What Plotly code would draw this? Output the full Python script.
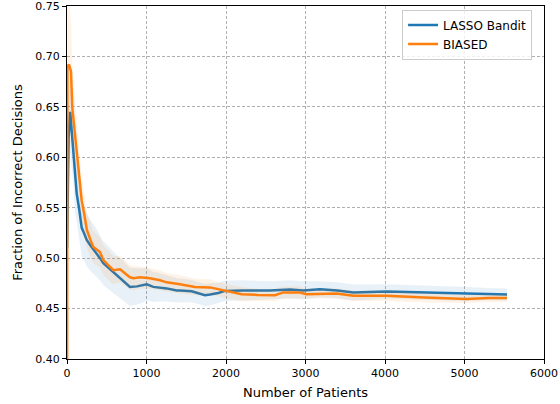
import plotly.graph_objects as go

# LASSO Bandit (blue)
lasso_x = [1, 20, 40, 67, 80, 100, 109, 122, 151, 185, 214, 248, 300, 374, 415, 457, 540, 625,
           700, 792, 880, 960, 1002, 1086, 1170, 1254, 1380, 1421, 1568, 1673, 1736, 1799, 1903,
           1987, 2197, 2553, 2805, 2972, 3182, 3400, 3601, 4021, 4500, 5027, 5300, 5535]
lasso_y = [0.51, 0.62, 0.645, 0.617, 0.61, 0.58, 0.574, 0.564, 0.55, 0.53, 0.525, 0.518, 0.512,
           0.505, 0.500, 0.495, 0.489, 0.483, 0.478, 0.4715, 0.472, 0.473, 0.474, 0.4715, 0.471,
           0.470, 0.468, 0.468, 0.4672, 0.465, 0.4633, 0.464, 0.4655, 0.4675, 0.468, 0.468, 0.469,
           0.468, 0.4692, 0.468, 0.4659, 0.467, 0.466, 0.4645, 0.4645, 0.464]
lasso_sd = [0.03, 0.04, 0.04, 0.035, 0.035, 0.033, 0.032, 0.03, 0.03, 0.028, 0.027, 0.026, 0.025,
            0.024, 0.022, 0.022, 0.021, 0.02, 0.02, 0.019, 0.018, 0.017, 0.016, 0.015, 0.014,
            0.013, 0.012, 0.012, 0.011, 0.011, 0.011, 0.011, 0.01, 0.01, 0.01, 0.009, 0.009,
            0.009, 0.008, 0.008, 0.008, 0.007, 0.007, 0.007, 0.006, 0.006]

# BIASED (orange)
biased_x = [1, 5, 25, 50, 67, 80, 109, 151, 185, 214, 250, 300, 331, 415, 457, 583, 667, 792,
            834, 918, 1044, 1170, 1254, 1421, 1610, 1799, 1862, 1987, 2197, 2400, 2616, 2721,
            2930, 3014, 3391, 3601, 4021, 4500, 5027, 5300, 5535]
biased_y = [0.35, 0.69, 0.692, 0.685, 0.649, 0.639, 0.62, 0.584, 0.557, 0.545, 0.528, 0.517,
            0.511, 0.506, 0.498, 0.488, 0.489, 0.481, 0.480, 0.481, 0.480, 0.478, 0.476, 0.474,
            0.4715, 0.471, 0.470, 0.4675, 0.4643, 0.4635, 0.4633, 0.466, 0.466, 0.4643, 0.465,
            0.4626, 0.4626, 0.461, 0.4595, 0.4605, 0.4605]
biased_sd = [0.1, 0.07, 0.06, 0.05, 0.04, 0.035, 0.03, 0.025, 0.022, 0.02, 0.018, 0.017, 0.016,
             0.015, 0.015, 0.014, 0.013, 0.012, 0.012, 0.011, 0.01, 0.01, 0.009, 0.009, 0.008,
             0.008, 0.007, 0.007, 0.007, 0.006, 0.006, 0.006, 0.006, 0.005, 0.005, 0.005, 0.005,
             0.005, 0.004, 0.004, 0.004]

x_ticks = [0, 1000, 2000, 3000, 4000, 5000, 6000]
y_ticks = [0.40, 0.45, 0.50, 0.55, 0.60, 0.65, 0.70, 0.75]

series = [
    ("LASSO Bandit", lasso_x, lasso_y, lasso_sd, "#1f77b4", "rgba(31,119,180,0.1)"),
    ("BIASED", biased_x, biased_y, biased_sd, "#ff7f0e", "rgba(255,127,14,0.1)"),
]

fig = go.Figure()
for name, xs, ys, sds, col, fillcol in series:
    lo = [y - s for y, s in zip(ys, sds)]
    hi = [y + s for y, s in zip(ys, sds)]
    fig.add_trace(go.Scatter(x=xs, y=lo, mode="lines", line=dict(width=0),
                             showlegend=False, hoverinfo="skip"))
    fig.add_trace(go.Scatter(x=xs, y=hi, mode="lines", line=dict(width=0),
                             fill="tonexty", fillcolor=fillcol,
                             showlegend=False, hoverinfo="skip"))
    fig.add_trace(go.Scatter(x=xs, y=ys, mode="lines", name=name,
                             line=dict(color=col, width=2.5)))

axis_common = dict(
    showline=True, linecolor="black", linewidth=1, mirror=True,
    ticks="outside", ticklen=4, tickcolor="black",
    showgrid=True, gridcolor="#b0b0b0", griddash="3px,2px", gridwidth=0.8,
    zeroline=False, tickfont=dict(size=11, color="black"), automargin=False,
    ticklabeloverflow="allow",
)

fig.update_xaxes(range=[0, 6000.01], tickvals=x_ticks,
                 title=dict(text="Number of Patients", font=dict(size=13, color="black"), standoff=8),
                 **axis_common)
fig.update_yaxes(range=[0.39999, 0.75001], tickvals=y_ticks, tickformat=".2f",
                 title=dict(text="Fraction of Incorrect Decisions", font=dict(size=13, color="black"), standoff=9),
                 **axis_common)

fig.update_layout(
    width=560, height=404,
    margin=dict(l=67, r=16, t=6, b=45),
    paper_bgcolor="white", plot_bgcolor="white",
    font=dict(family="DejaVu Sans", size=11, color="black"),
    legend=dict(x=0.975, y=0.99, xanchor="right", yanchor="top", traceorder="normal",
                bgcolor="rgba(255,255,255,0.8)", bordercolor="#cccccc", borderwidth=1,
                font=dict(size=12)),
    showlegend=True,
)

fig.write_html("out.html", config={"displayModeBar": False},
               post_script="document.body.style.margin='0px';")
